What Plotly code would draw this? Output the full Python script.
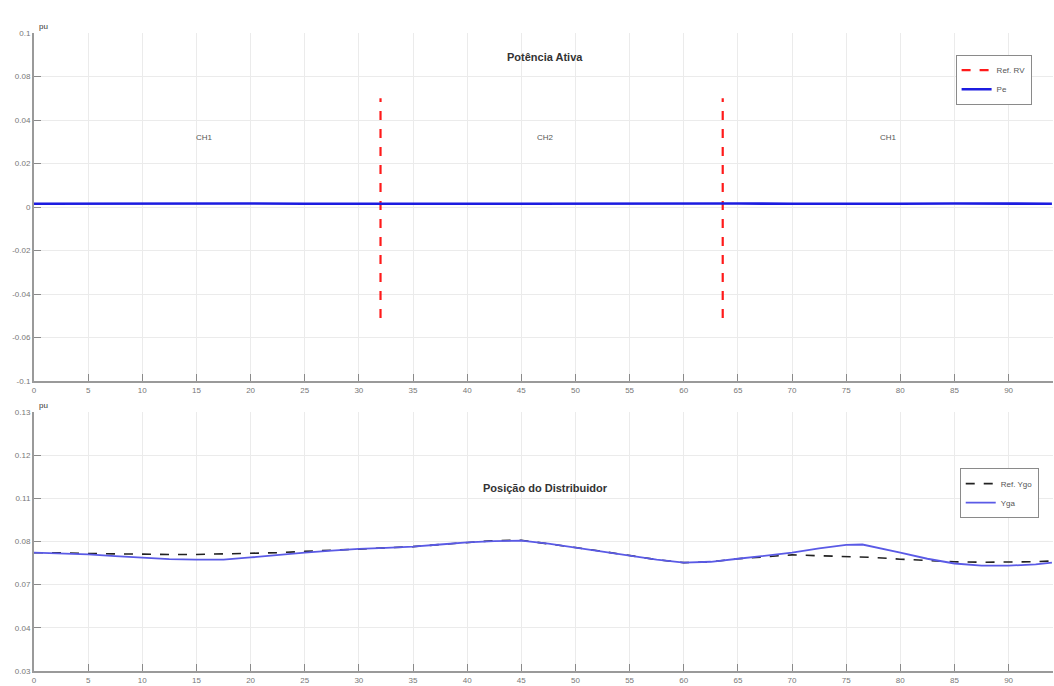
import plotly.graph_objects as go

# ---------------- data ----------------
# top panel: active power (pu)
t_pe = [0, 5, 10, 15, 20, 25, 30, 35, 40, 45, 50, 55, 60, 65, 70, 75, 80, 85, 90, 94]
pe = [0.0015, 0.0016, 0.0014, 0.0015, 0.0016, 0.0015, 0.0014, 0.0016, 0.0015, 0.0015,
      0.0016, 0.0014, 0.0015, 0.0016, 0.0015, 0.0014, 0.0015, 0.0016, 0.0015, 0.0015]
rv_switch_times = [32.0, 63.6]
rv_line_min = -0.051
rv_line_max = 0.050
top_yticks = [-0.08, -0.06, -0.04, -0.02, 0, 0.02, 0.04, 0.06, 0.08]
top_yticklabels = ["-0.1", "-0.06", "-0.04", "-0.02", "0", "0.02", "0.04", "0.08", "0.1"]
ch_labels = ["CH1", "CH2", "CH1"]
ch_x = [15.7, 47.2, 78.9]
ch_y = 0.032

# bottom panel: distributor position (pu)
t_y = [0, 2.5, 5, 7.5, 10, 12.5, 15, 17.5, 20, 22.5, 25, 27.5, 30, 32.5, 35, 37.5, 40,
       42.5, 45, 47.5, 50, 52.5, 55, 57.5, 60, 62.5, 65, 67.5, 70, 72.5, 75, 76.5, 77.5,
       80, 82.5, 85, 87.5, 90, 92.5, 94]
yga = [0.0774, 0.0772, 0.0770, 0.0766, 0.0763, 0.0759, 0.0758, 0.0758, 0.0763, 0.0769,
       0.0774, 0.0779, 0.0783, 0.0785, 0.0788, 0.0793, 0.0798, 0.0801, 0.0802, 0.0795,
       0.0786, 0.0777, 0.0767, 0.0758, 0.0751, 0.0753, 0.0760, 0.0767, 0.0774, 0.0784,
       0.0792, 0.0793, 0.0788, 0.0774, 0.0760, 0.0749, 0.0744, 0.0744, 0.0747, 0.0751]
ref_yga = [0.0774, 0.0774, 0.0772, 0.0771, 0.0771, 0.0770, 0.0770, 0.0771, 0.0772, 0.0774,
           0.0777, 0.0780, 0.0783, 0.0785, 0.0788, 0.0793, 0.0798, 0.0802, 0.0803, 0.0795,
           0.0786, 0.0777, 0.0767, 0.0758, 0.0751, 0.0753, 0.0760, 0.0765, 0.0769, 0.0767,
           0.0765, 0.0764, 0.0763, 0.0759, 0.0756, 0.0753, 0.0752, 0.0752, 0.0753, 0.0755]
bot_yticks = [0.05, 0.06, 0.07, 0.08, 0.09, 0.10, 0.11]
bot_yticklabels = ["0.03", "0.04", "0.07", "0.08", "0.11", "0.12", "0.13"]

x_ticks = list(range(0, 95, 5))
x_range = [0, 94.1]

# ---------------- figure ----------------
fig = go.Figure()

rv_x, rv_y = [], []
for ts in rv_switch_times:
    rv_x += [ts, ts, None]
    rv_y += [rv_line_min, rv_line_max, None]

fig.add_trace(go.Scatter(x=rv_x, y=rv_y, mode="lines", name="Ref. RV",
                         line=dict(color="#ff1a1a", width=2.2, dash="dash"),
                         xaxis="x", yaxis="y", legend="legend"))
fig.add_trace(go.Scatter(x=t_pe, y=pe, mode="lines", name="Pe",
                         line=dict(color="#1c1ce0", width=2.6),
                         xaxis="x", yaxis="y", legend="legend"))

fig.add_trace(go.Scatter(x=t_y, y=ref_yga, mode="lines", name="Ref. Ygo",
                         line=dict(color="#222222", width=1.6, dash="dash"),
                         xaxis="x2", yaxis="y2", legend="legend2"))
fig.add_trace(go.Scatter(x=t_y, y=yga, mode="lines", name="Yga",
                         line=dict(color="#5a5ae6", width=1.8),
                         xaxis="x2", yaxis="y2", legend="legend2"))

axis_common = dict(
    showgrid=True, gridcolor="#ebebeb", gridwidth=1,
    showline=True, linecolor="#9a9a9a", linewidth=2,
    ticks="inside", ticklen=7, tickcolor="#8a8a8a", tickwidth=1,
    tickfont=dict(family="Liberation Sans, Arial, sans-serif", size=8, color="#777777"),
    zeroline=False, automargin=False, mirror=False,
)

legend_common = dict(xanchor="right", yanchor="top", bgcolor="white",
                     bordercolor="#8a8a8a", borderwidth=1,
                     font=dict(size=8, color="#555555"), tracegroupgap=0,
                     itemwidth=30)

fig.update_layout(
    template="none",
    width=1054, height=686,
    margin=dict(l=34, r=1, t=33, b=15),
    paper_bgcolor="white", plot_bgcolor="white",
    font=dict(family="Liberation Sans, Arial, sans-serif", size=9, color="#444444"),
    xaxis=dict(domain=[0, 1], range=x_range, tickvals=x_ticks, anchor="y", **axis_common),
    yaxis=dict(domain=[0.4545, 1], range=[-0.08, 0.08], tickvals=top_yticks,
               ticktext=top_yticklabels, anchor="x", **axis_common),
    xaxis2=dict(domain=[0, 1], range=x_range, tickvals=x_ticks, anchor="y2", **axis_common),
    yaxis2=dict(domain=[0, 0.406], range=[0.05, 0.11], tickvals=bot_yticks,
                ticktext=bot_yticklabels, anchor="x2", **axis_common),
    legend=dict(x=0.979, y=0.966, **legend_common),
    legend2=dict(x=0.986, y=0.318, **legend_common),
    showlegend=True,
)

annotations = []
for lbl, xv in zip(ch_labels, ch_x):
    annotations.append(dict(x=xv, y=ch_y, xref="x", yref="y", text=lbl, showarrow=False,
                            font=dict(size=8, color="#555555")))
annotations.append(dict(x=47.2, y=0.069, xref="x", yref="y", text="<b>Potência Ativa</b>",
                        showarrow=False, font=dict(size=11, color="#333333")))
annotations.append(dict(x=47.2, y=0.0923, xref="x2", yref="y2",
                        text="<b>Posição do Distribuidor</b>",
                        showarrow=False, font=dict(size=11, color="#333333")))
annotations.append(dict(x=0.003, y=1.0, xref="x domain", yref="y domain", text="pu",
                        xanchor="left", yanchor="bottom", showarrow=False,
                        font=dict(size=8, color="#333333")))
annotations.append(dict(x=0.003, y=1.0, xref="x2 domain", yref="y2 domain", text="pu",
                        xanchor="left", yanchor="bottom", showarrow=False,
                        font=dict(size=8, color="#333333")))
fig.update_layout(annotations=annotations)

fig.write_html("out.html",
               config={"displayModeBar": False},
               post_script="document.body.style.margin='0';document.body.style.overflow='hidden';")
